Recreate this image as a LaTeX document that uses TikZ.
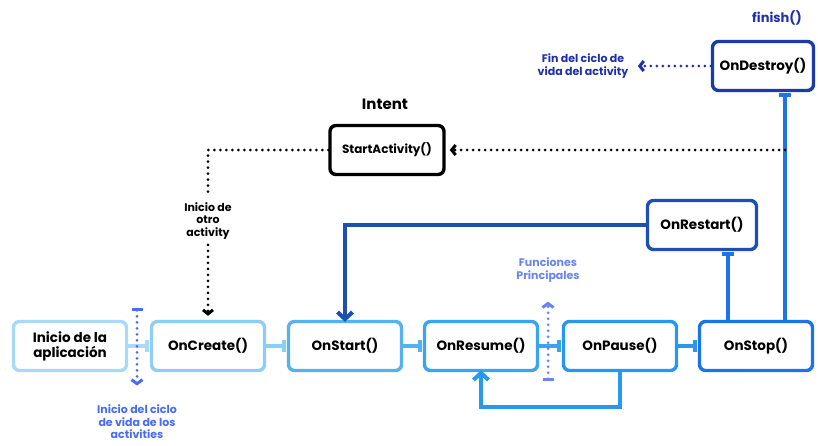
\documentclass[tikz,border=0pt]{standalone}
\usepackage{fontspec}
\setmainfont{Poppins}
\usetikzlibrary{arrows.meta}
\definecolor{cA}{HTML}{A8DAF8}
\definecolor{cB}{HTML}{8CCEF6}
\definecolor{cC}{HTML}{55B2F0}
\definecolor{cD}{HTML}{3AA5EF}
\definecolor{cE}{HTML}{2698EE}
\definecolor{cF}{HTML}{1C74EA}
\definecolor{cG}{HTML}{1E4FB4}
\definecolor{cH}{HTML}{1B3BA8}
\definecolor{tNavy}{HTML}{2030A8}
\definecolor{tBlue}{HTML}{4A6CF0}
\definecolor{tLight}{HTML}{6C84F0}
\tikzset{
  box/.style={draw, rounded corners=6pt, line width=3.4pt, fill=white,
    minimum width=113pt, minimum height=49pt, align=center, inner sep=2pt,
    font=\fontsize{13.5}{15}\selectfont\bfseries},
  conn/.style={line width=3.6pt, -{Bar[width=12pt,line width=4pt]}, shorten >=1pt},
  solidarrow/.style={line width=4pt, -{Straight Barb[length=7pt,width=15pt,line width=4pt]}},
  dots/.style={line width=3pt, line cap=round, dash pattern=on 0pt off 6pt},
  dotarrow/.style={dots, -{Straight Barb[length=4pt,width=10pt,line width=3pt]}},
  lbl/.style={align=center, font=\fontsize{11}{12.5}\selectfont\bfseries}
}
\begin{document}
\begin{tikzpicture}[x=1pt,y=-1pt]
\useasboundingbox[fill=white] (0,0) rectangle (818,445);

% main row
\node[box, draw=cA] (ini) at (70,346) {Inicio de la\\aplicación};
\node[box, draw=cB] (oncreate) at (208,346) {OnCreate()};
\node[box, draw=cC] (onstart) at (345,346) {OnStart()};
\node[box, draw=cD] (onresume) at (481,346) {OnResume()};
\node[box, draw=cE] (onpause) at (620,346) {OnPause()};
\node[box, draw=cF] (onstop) at (756,346) {OnStop()};
\node[box, draw=cG, minimum width=109pt] (onrestart) at (702,225) {OnRestart()};
\node[box, draw=cH, minimum width=101pt] (ondestroy) at (763,66) {OnDestroy()};
\node[box, draw=black, minimum width=114pt, font=\fontsize{12}{14}\selectfont\bfseries] (startact) at (387,150) {StartActivity()};

% labels
\node[font=\fontsize{15}{17}\selectfont\bfseries] (intent) at (385,104) {Intent};
\node[font=\fontsize{13}{15}\selectfont\bfseries, text=tNavy] (finish) at (777,18) {finish()};
\node[lbl, text=tNavy] (fin) at (583,66) {Fin del ciclo de\\vida del activity};
\node[lbl] (otro) at (208,221) {Inicio de\\otro\\activity};
\node[lbl, text=tBlue] (inicioc) at (137,422) {Inicio del ciclo\\de vida de los\\activities};
\node[lbl, text=tLight] (funciones) at (548,270) {Funciones\\Principales};

% horizontal connectors
\draw[conn, draw=cA] (ini.east) -- (oncreate.west);
\draw[conn, draw=cB] (oncreate.east) -- (onstart.west);
\draw[conn, draw=cC] (onstart.east) -- (onresume.west);
\draw[conn, draw=cD] (onresume.east) -- (onpause.west);
\draw[conn, draw=cE] (onpause.east) -- (onstop.west);

% OnStop to OnRestart / OnDestroy
\coordinate (rs) at ([xshift=26pt]onrestart.south);
\coordinate (ds) at ([xshift=22pt]ondestroy.south);
\draw[conn, draw=cF] (onstop.north -| rs) -- (rs);
\draw[conn, draw=cF] (onstop.north -| ds) -- (ds);

% OnRestart to OnStart
\draw[solidarrow, draw=cG] (onrestart.west) -| ([yshift=-2pt]onstart.north);

% loop OnPause -> OnResume
\draw[solidarrow, draw=cE] (onpause.south) -- ++(0,35) -| ([yshift=2pt]onresume.south);

% dotted intent connectors
\draw[dotarrow] (ds |- startact.east) -- ([xshift=4pt]startact.east);
\draw[dots] (startact.west) -| ([yshift=2pt]otro.north);
\draw[dotarrow] ([yshift=-2pt]otro.south) -- ([yshift=4pt]oncreate.north);
\draw[dotarrow, draw=tNavy] (ondestroy.west) -- ([xshift=6pt]fin.east);

% markers
\coordinate (m1) at (137,308);
\draw[dots, draw=tBlue, {Bar[width=11pt,line width=3pt]}-{Straight Barb[length=4pt,width=11pt,line width=3pt]}] (m1) -- ([yshift=16pt]inicioc.north);
\coordinate (m2) at (548,381);
\draw[dots, draw=tLight, {Bar[width=11pt,line width=3pt]}-{Straight Barb[length=4pt,width=11pt,line width=3pt]}] (m2) -- ([yshift=-16pt]funciones.south);
\end{tikzpicture}
\end{document}
